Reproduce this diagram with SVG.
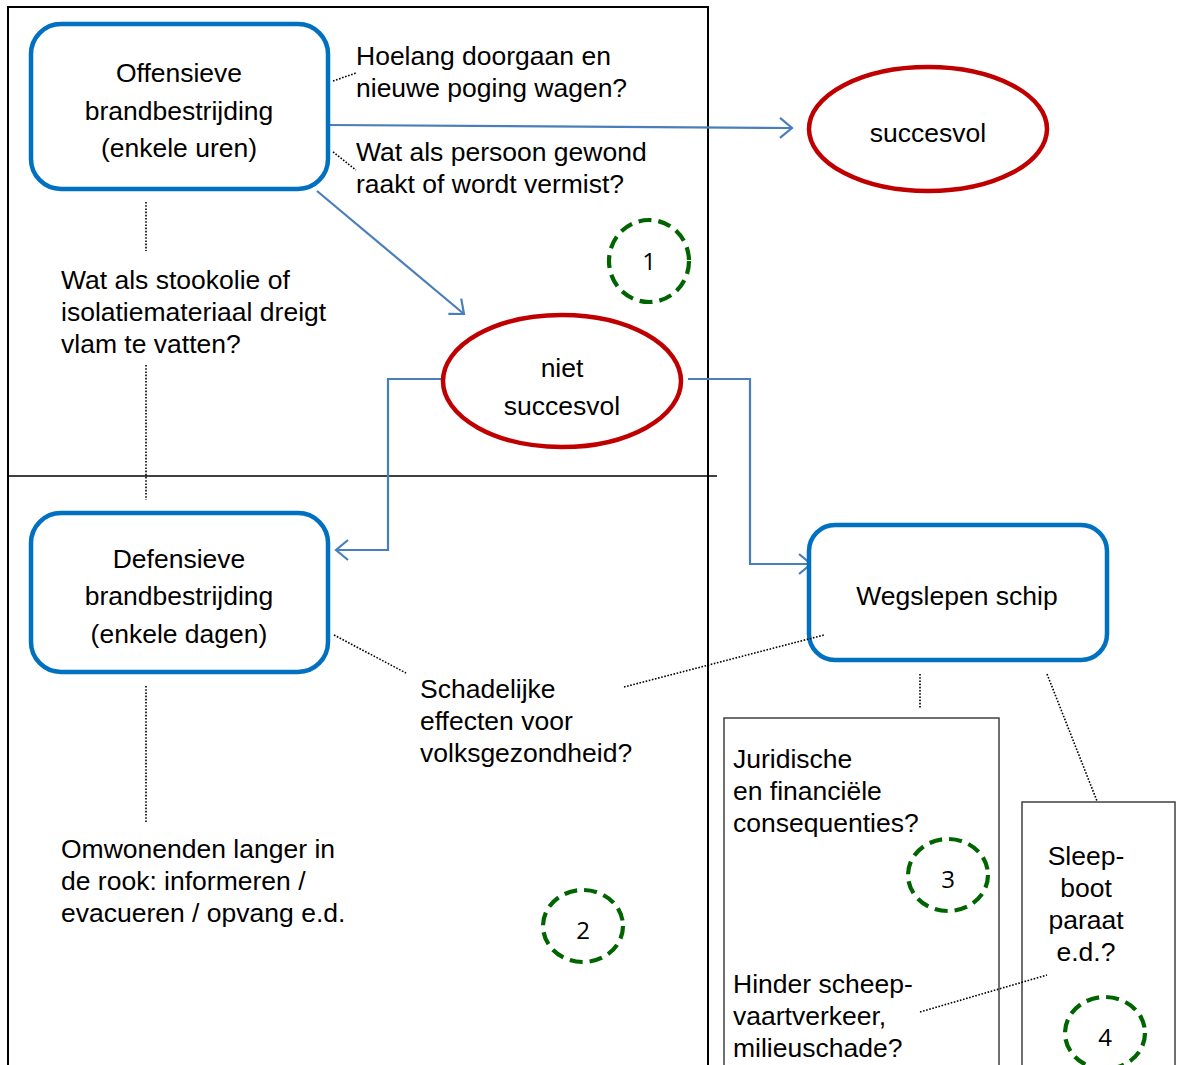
<svg xmlns="http://www.w3.org/2000/svg" width="1181" height="1065" viewBox="0 0 1181 1065">
<defs>
<style>
.t{font-family:"Liberation Sans",Arial,sans-serif;font-size:26.5px;fill:#000}
.c{text-anchor:middle}
.box{fill:#fff;stroke:#0070C0;stroke-width:4.5}
.ell{fill:#fff;stroke:#C00000;stroke-width:4.5}
.num{fill:none;stroke:#006400;stroke-width:4.2;stroke-dasharray:13 7}
.nt{font-family:"Open Sans","Liberation Sans",sans-serif;font-size:24px;text-anchor:middle;fill:#000}
.conn{fill:none;stroke:#4A7EBB;stroke-width:2.2}
.dot{fill:none;stroke:#000;stroke-width:1.6;stroke-dasharray:1.6 1.6}
.frame{fill:none;stroke:#000;stroke-width:2}
.qbox{fill:#fff;stroke:#404040;stroke-width:1.5}
</style>
<marker id="arr" markerUnits="userSpaceOnUse" markerWidth="20" markerHeight="24" refX="14" refY="12" orient="auto">
<path d="M2,2 L14,12 L2,22" fill="none" stroke="#4A7EBB" stroke-width="2.2"/>
</marker>
</defs>
<rect width="1181" height="1065" fill="#fff"/>
<g id="frame">
<path class="frame" d="M8,1065 V7 H708 V1065"/>
<line x1="8" y1="476" x2="717" y2="476" stroke="#000" stroke-width="1.5"/>
</g>
<g id="qboxes">
<rect class="qbox" x="724" y="718" width="275" height="360"/>
<rect class="qbox" x="1022" y="802" width="153" height="280"/>
</g>
<g id="connectors">
<line class="conn" x1="329" y1="125" x2="792" y2="128" marker-end="url(#arr)"/>
<line class="conn" x1="317" y1="191" x2="464" y2="314" marker-end="url(#arr)"/>
<path class="conn" d="M443,379 H388 V550 H336" marker-end="url(#arr)"/>
<path class="conn" d="M688,379 H750 V564 H811" marker-end="url(#arr)"/>
<line class="dot" x1="333" y1="81" x2="356" y2="73"/>
<line class="dot" x1="333" y1="152" x2="356" y2="170"/>
<line class="dot" x1="146" y1="202" x2="146" y2="251"/>
<line class="dot" x1="146" y1="365" x2="146" y2="500"/>
<line class="dot" x1="146" y1="686" x2="146" y2="823"/>
<line class="dot" x1="334" y1="635" x2="406" y2="673"/>
<line class="dot" x1="920" y1="674" x2="920" y2="709"/>
<line class="dot" x1="1047" y1="674" x2="1097" y2="801"/>
<line class="dot" x1="920" y1="1012" x2="1047" y2="975" stroke-width="1.2"/>
</g>
<g id="offensief">
<rect class="box" x="31" y="24" width="297" height="165" rx="30"/>
<text class="t c" x="179" y="82">Offensieve</text>
<text class="t c" x="179" y="120">brandbestrijding</text>
<text class="t c" x="179" y="157">(enkele uren)</text>
</g>
<g id="succesvol">
<ellipse class="ell" cx="928" cy="129" rx="119" ry="62"/>
<text class="t c" x="928" y="142">succesvol</text>
</g>
<g id="nietsuccesvol">
<ellipse class="ell" cx="562" cy="381" rx="119" ry="66"/>
<text class="t c" x="562" y="377">niet</text>
<text class="t c" x="562" y="415">succesvol</text>
</g>
<g id="defensief">
<rect class="box" x="31" y="513" width="297" height="159" rx="30"/>
<text class="t c" x="179" y="568">Defensieve</text>
<text class="t c" x="179" y="605">brandbestrijding</text>
<text class="t c" x="179" y="643">(enkele dagen)</text>
</g>
<g id="wegslepen">
<rect class="box" x="809" y="525" width="298" height="135" rx="26"/>
<text class="t c" x="957" y="605">Wegslepen schip</text>
</g>
<g id="connectors-top">
<line class="dot" x1="624" y1="687" x2="824" y2="635"/>
</g>
<g id="q-hoelang">
<text class="t" x="356" y="65">Hoelang doorgaan en</text>
<text class="t" x="356" y="97">nieuwe poging wagen?</text>
</g>
<g id="q-persoon">
<text class="t" x="356" y="161">Wat als persoon gewond</text>
<text class="t" x="356" y="193">raakt of wordt vermist?</text>
</g>
<g id="q-stookolie">
<text class="t" x="61" y="289">Wat als stookolie of</text>
<text class="t" x="61" y="321">isolatiemateriaal dreigt</text>
<text class="t" x="61" y="353">vlam te vatten?</text>
</g>
<g id="q-schadelijk">
<text class="t" x="420" y="698">Schadelijke</text>
<text class="t" x="420" y="730">effecten voor</text>
<text class="t" x="420" y="762">volksgezondheid?</text>
</g>
<g id="q-omwonenden">
<text class="t" x="61" y="858">Omwonenden langer in</text>
<text class="t" x="61" y="890">de rook: informeren /</text>
<text class="t" x="61" y="922">evacueren / opvang e.d.</text>
</g>
<g id="q-juridisch">
<text class="t" x="733" y="768">Juridische</text>
<text class="t" x="733" y="800">en financiële</text>
<text class="t" x="733" y="832">consequenties?</text>
</g>
<g id="q-hinder">
<text class="t" x="733" y="993">Hinder scheep-</text>
<text class="t" x="733" y="1025">vaartverkeer,</text>
<text class="t" x="733" y="1057">milieuschade?</text>
</g>
<g id="q-sleepboot">
<text class="t c" x="1086" y="865">Sleep-</text>
<text class="t c" x="1086" y="897">boot</text>
<text class="t c" x="1086" y="929">paraat</text>
<text class="t c" x="1086" y="961">e.d.?</text>
</g>
<g id="n1">
<ellipse class="num" cx="649" cy="261" rx="40" ry="41"/>
<text class="nt" x="649" y="270">1</text>
</g>
<g id="n2">
<ellipse class="num" cx="583" cy="926" rx="40" ry="36"/>
<text class="nt" x="583" y="939">2</text>
</g>
<g id="n3">
<ellipse class="num" cx="948" cy="875" rx="40" ry="36"/>
<text class="nt" x="948" y="888">3</text>
</g>
<g id="n4">
<ellipse class="num" cx="1105" cy="1033" rx="40" ry="36"/>
<text class="nt" x="1105" y="1046">4</text>
</g>
</svg>
